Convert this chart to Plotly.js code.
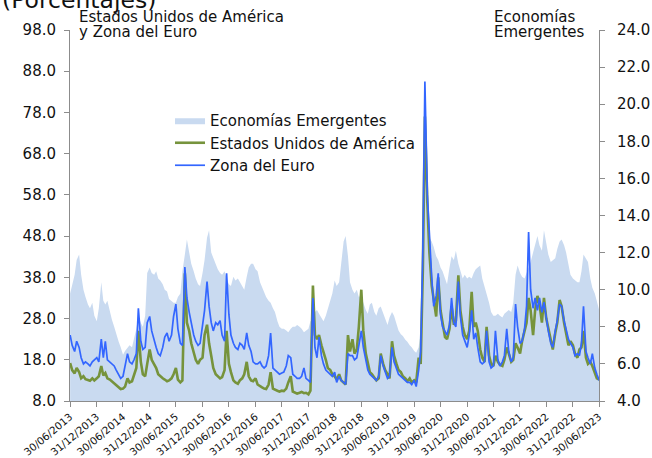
<!DOCTYPE html>
<html><head><meta charset="utf-8">
<script src="https://cdn.plot.ly/plotly-3.0.1.min.js"></script>
<style>html,body{margin:0;padding:0;background:#fff;} #chart{width:652px;height:458px;}</style>
</head><body><div id="chart"></div>
<script>
// X-axis tick labels (half-year ends)
const tickLabels = ["30/06/2013","31/12/2013","30/06/2014","31/12/2014","30/06/2015","31/12/2015",
  "30/06/2016","31/12/2016","30/06/2017","31/12/2017","30/06/2018","31/12/2018","30/06/2019",
  "31/12/2019","30/06/2020","31/12/2020","30/06/2021","31/12/2021","30/06/2022","31/12/2022","30/06/2023"];
const seriesNames = ["Economías Emergentes","Estados Unidos de América","Zona del Euro"];
// observations: semi-monthly (1st and 15th), first one July 2013
const firstYear = 2013, firstMonth = 7;

// Economías Emergentes (right axis)
const emergentes = [
 9.8,10.3,10.8,11.6,11.9,10.8,10.0,9.6,9.2,9.0,
 9.3,8.6,8.3,9.0,10.4,9.4,9.2,9.4,8.8,8.4,
 8.0,7.6,7.2,6.9,6.5,6.7,6.9,7.0,6.9,7.4,
 7.9,8.6,8.2,8.0,8.6,10.9,11.2,10.9,10.8,11.0,
 10.6,10.5,10.3,10.0,9.9,9.5,9.4,9.3,9.3,9.6,
 9.8,11.0,11.9,12.7,12.0,11.4,11.0,10.6,10.3,10.2,
 10.9,11.6,12.8,13.2,12.0,11.7,11.4,11.1,10.9,10.8,
 11.0,10.6,10.3,10.2,10.7,10.5,10.6,10.4,10.2,10.0,
 10.7,11.2,11.4,11.4,11.1,11.0,10.4,10.1,9.8,9.6,
 9.4,9.3,9.0,8.8,8.3,8.0,7.9,7.9,7.8,7.7,
 7.9,8.0,8.0,8.1,8.0,7.9,7.7,7.8,7.9,8.3,
 8.4,8.8,8.9,8.7,8.5,8.3,8.6,9.0,9.5,9.8,
 10.5,10.2,10.4,11.5,12.6,12.9,11.8,10.4,10.0,9.8,
 10.0,9.6,9.7,9.3,8.9,8.7,9.2,9.3,8.8,8.6,
 9.0,9.1,8.7,8.4,8.1,8.5,8.8,8.6,8.1,7.8,
 7.6,7.5,7.3,7.2,7.0,6.9,6.7,6.6,6.9,8.0,
 11.5,16.0,13.5,12.8,12.6,12.3,11.8,11.6,11.2,11.0,
 10.6,10.3,11.2,11.8,11.6,12.1,11.4,11.0,10.6,10.8,
 10.6,10.7,10.6,10.9,11.1,11.2,11.3,10.6,10.2,9.8,
 9.3,8.8,8.6,8.6,8.7,8.6,8.5,8.7,8.8,8.9,
 8.8,9.3,10.8,11.3,10.9,10.7,10.6,10.9,11.3,11.5,
 12.0,12.5,12.9,12.4,12.1,13.2,12.6,11.9,11.5,11.6,
 11.7,12.2,12.6,12.7,12.4,12.0,11.4,10.8,10.6,10.5,
 10.4,10.4,11.0,11.9,11.7,11.5,10.6,10.1,9.8,9.4,
 8.9];

// Estados Unidos de América (left axis)
const eeuu = [
 17.2,15.5,14.7,16.0,15.0,13.5,14.0,13.3,13.1,12.9,
 13.5,13.0,13.5,14.0,16.5,14.2,14.8,13.5,13.2,12.8,
 12.3,11.8,11.3,10.9,11.0,11.5,13.5,12.5,12.8,14.5,
 16.0,25.0,17.5,14.5,14.0,17.0,20.5,18.0,17.0,16.0,
 14.5,14.0,13.5,13.2,12.8,13.0,13.5,14.5,16.0,13.2,
 12.5,13.0,39.0,27.0,25.0,22.0,20.0,18.0,17.0,18.0,
 18.5,24.0,26.5,22.0,19.0,16.0,14.5,14.0,13.5,13.8,
 15.5,25.0,17.0,15.0,13.0,12.5,12.2,13.0,13.5,14.5,
 17.5,14.0,13.0,12.8,13.5,12.0,11.5,11.3,11.0,10.9,
 12.0,15.0,11.0,10.7,10.5,10.3,10.5,10.4,11.0,12.5,
 14.0,10.3,10.0,9.8,10.0,10.2,9.9,10.0,9.6,10.5,
 36.0,24.0,23.0,24.0,21.5,20.0,18.0,16.0,15.5,14.5,
 14.0,13.2,14.5,13.0,12.5,12.0,24.0,20.0,23.0,19.5,
 20.5,26.0,35.0,25.0,19.5,17.0,15.0,14.5,13.5,13.0,
 13.5,19.5,17.0,15.5,14.5,13.5,22.5,19.0,17.0,15.5,
 15.0,14.0,13.5,12.8,13.5,12.5,13.0,12.5,18.5,17.0,
 40.0,77.0,56.0,44.0,36.0,33.0,28.5,38.0,30.0,27.0,
 23.5,23.0,25.5,31.0,26.5,27.5,38.5,30.0,26.0,24.0,
 23.0,25.0,34.5,26.0,27.0,25.0,20.5,18.5,17.5,26.0,
 19.0,17.0,16.5,19.0,17.5,16.8,16.5,18.0,21.0,19.5,
 17.5,18.0,22.0,21.0,19.5,22.5,25.0,27.0,33.0,30.0,
 24.0,30.0,33.5,31.5,27.0,33.0,28.0,25.5,22.5,20.5,
 24.5,27.0,32.5,31.0,27.0,24.0,21.5,22.5,21.5,19.5,
 18.5,20.5,21.0,25.0,18.5,17.0,17.5,16.5,15.0,13.5,
 13.2];

// Zona del Euro (left axis)
const zonaEuro = [
 24.0,21.5,20.0,22.5,21.0,18.5,17.0,17.5,17.0,16.5,
 17.5,18.0,18.5,17.5,23.0,18.5,22.5,18.0,17.5,17.0,
 16.5,15.5,14.5,13.5,14.0,16.5,19.5,17.5,17.0,18.0,
 19.5,30.5,22.5,20.5,21.0,27.0,28.5,25.0,22.5,21.0,
 19.5,19.0,21.0,23.5,24.5,22.5,24.0,28.5,31.5,25.5,
 22.0,21.5,40.5,33.0,29.5,27.0,24.0,22.5,21.5,22.0,
 26.0,30.0,37.0,31.0,27.0,25.0,27.0,26.5,27.5,24.0,
 22.5,39.0,29.0,24.0,22.0,21.0,20.5,22.0,21.5,20.5,
 24.5,21.5,20.0,17.5,17.0,17.0,17.5,16.5,16.0,16.5,
 19.0,24.5,16.0,15.5,15.0,14.5,14.8,15.0,16.5,19.0,
 18.5,14.5,14.0,13.5,13.5,14.0,16.0,13.5,13.0,12.5,
 33.0,21.0,18.5,23.5,19.0,17.0,15.5,15.0,14.5,14.0,
 15.0,12.5,14.0,13.0,12.5,12.0,19.5,19.0,19.0,18.0,
 18.5,22.0,25.0,21.0,18.0,15.5,14.5,14.0,13.5,13.0,
 14.0,19.0,16.5,15.0,13.5,14.0,21.0,17.5,15.5,14.5,
 14.0,13.5,13.0,12.5,12.5,12.0,13.0,11.5,15.5,20.0,
 45.0,85.5,58.0,47.0,38.0,31.0,33.5,39.0,29.0,26.0,
 25.0,24.0,26.5,33.0,27.0,26.0,37.0,28.5,24.0,22.5,
 21.0,24.0,30.0,23.0,24.5,21.0,17.5,17.0,17.5,25.0,
 17.5,16.0,16.5,25.0,18.0,16.5,17.5,19.0,25.5,20.0,
 17.5,18.5,31.5,26.0,22.0,22.5,25.5,31.0,49.0,35.0,
 30.5,33.0,30.0,33.0,29.5,32.0,27.5,25.0,22.0,21.0,
 25.0,27.5,31.5,31.0,27.5,25.0,23.0,22.0,21.0,19.0,
 19.5,19.0,22.0,31.0,20.0,18.5,17.0,19.5,16.0,14.5,
 13.0];

function obsDates(n){
  const out=[];
  for(let i=0;i<n;i++){
    const mIdx = firstMonth-1+Math.floor(i/2);
    const y = firstYear+Math.floor(mIdx/12);
    const m = mIdx%12+1;
    const d = (i%2===0)?1:15;
    out.push(y+'-'+String(m).padStart(2,'0')+'-'+String(d).padStart(2,'0'));
  }
  return out;
}
const dates = obsDates(eeuu.length);
const tickVals = tickLabels.map(s=>{const p=s.split('/'); return p[2]+'-'+p[1]+'-'+p[0];});

const FONT = 'DejaVu Sans, Arial, sans-serif';
const AX = '#8c8c8c';
const W = 652, H = 458, ML = 70, MR = 53, MT = 30, MB = 57;
const PW = W-ML-MR, PH = H-MT-MB;
const px = x => (x-ML)/PW;
const py = y => (H-MB-y)/PH;

const traces = [
 {x:dates, y:emergentes, name:seriesNames[0], type:'scatter', mode:'lines', yaxis:'y',
  fill:'tozeroy', fillcolor:'rgb(201,218,240)', line:{width:0, color:'rgb(201,218,240)'}},
 {x:dates, y:eeuu, name:seriesNames[1], type:'scatter', mode:'lines', yaxis:'y2',
  line:{width:2.6, color:'#76933c'}},
 {x:dates, y:zonaEuro, name:seriesNames[2], type:'scatter', mode:'lines', yaxis:'y2',
  line:{width:1.7, color:'#3366ff'}}
];

const axCommon = {showline:true, linecolor:AX, linewidth:1, ticks:'outside', ticklen:5, tickcolor:AX,
  showgrid:false, zeroline:false, fixedrange:true, tickfont:{family:FONT, size:15, color:'#111'}};

const layout = {
  width:W, height:H, margin:{l:ML, r:MR, t:MT, b:MB},
  paper_bgcolor:'#fff', plot_bgcolor:'#fff',
  showlegend:true,
  legend:{x:px(170), y:py(104), xanchor:'left', yanchor:'top', bgcolor:'rgba(0,0,0,0)',
    font:{family:FONT, size:15, color:'#111'}, itemwidth:30, tracegroupgap:0},
  xaxis:Object.assign({}, axCommon, {type:'date', range:['2013-06-30','2023-06-30'],
    tickmode:'array', tickvals:tickVals, ticktext:tickLabels, tickangle:-40,
    tickfont:{family:FONT, size:10.3, color:'#111'}}),
  yaxis:Object.assign({}, axCommon, {side:'right', range:[4,24], tick0:4, dtick:2, tickformat:'.1f', ticklabelstandoff:9}),
  yaxis2:Object.assign({}, axCommon, {side:'left', overlaying:'y', range:[8,98], tick0:8, dtick:10, tickformat:'.1f', ticklabelstandoff:5}),
  annotations:[
    {text:'(Porcentajes)', xref:'paper', yref:'paper', x:px(0), y:py(0), xanchor:'left', yanchor:'middle', showarrow:false, font:{family:FONT, size:23.5, color:'#111'}},
    {text:'Estados Unidos de América', xref:'paper', yref:'paper', x:px(77), y:py(17), xanchor:'left', yanchor:'middle', showarrow:false, font:{family:FONT, size:15, color:'#111'}},
    {text:'y Zona del Euro', xref:'paper', yref:'paper', x:px(77), y:py(32), xanchor:'left', yanchor:'middle', showarrow:false, font:{family:FONT, size:15, color:'#111'}},
    {text:'Economías', xref:'paper', yref:'paper', x:px(492), y:py(17), xanchor:'left', yanchor:'middle', showarrow:false, font:{family:FONT, size:15, color:'#111'}},
    {text:'Emergentes', xref:'paper', yref:'paper', x:px(492), y:py(32), xanchor:'left', yanchor:'middle', showarrow:false, font:{family:FONT, size:15, color:'#111'}}
  ]
};

Plotly.newPlot('chart', traces, layout, {displayModeBar:false, staticPlot:true});
</script></body></html>
